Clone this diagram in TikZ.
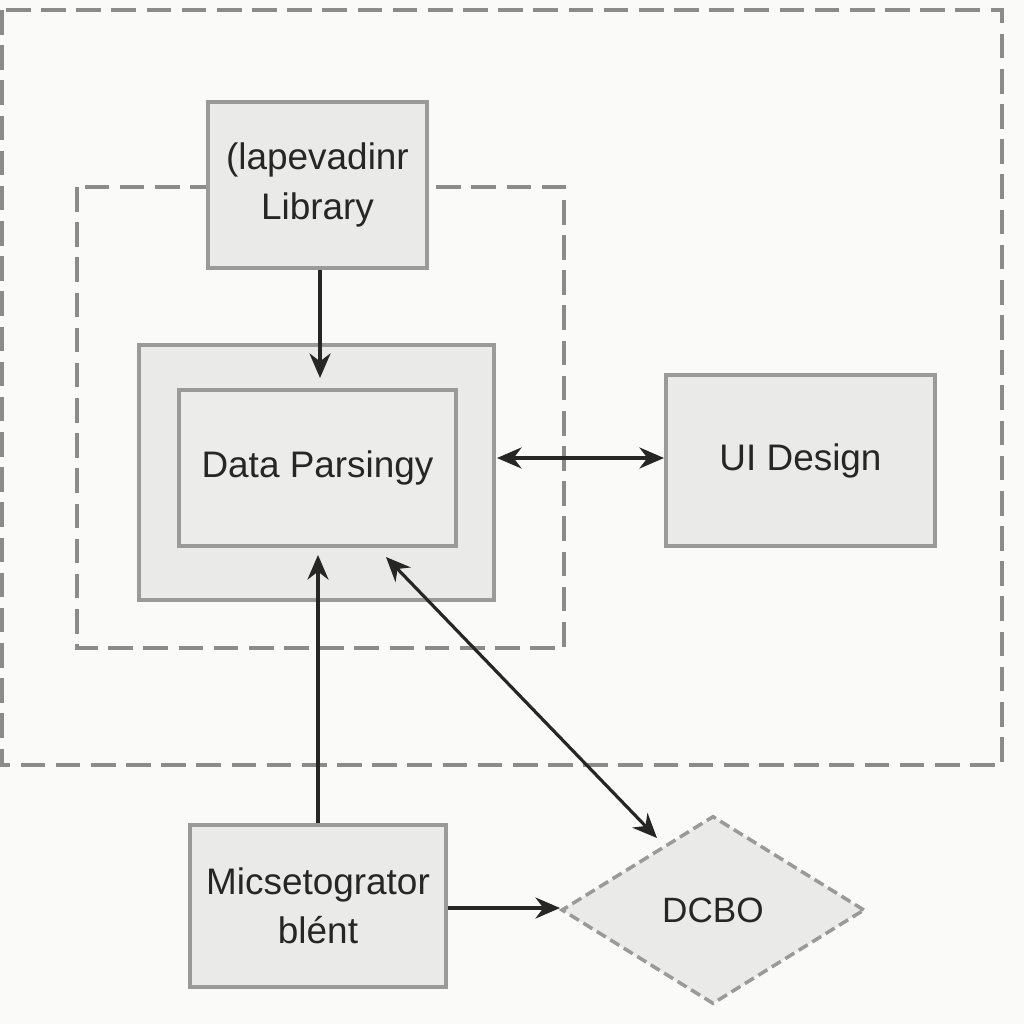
\documentclass[tikz,border=0pt]{standalone}
\usepackage{fontspec}
\setmainfont{Liberation Sans}
\usetikzlibrary{shapes.geometric,arrows.meta}
\definecolor{boxfill}{HTML}{EAEAE8}
\definecolor{innerfill}{HTML}{ECECEA}
\definecolor{edge}{HTML}{9A9A9A}
\definecolor{bg}{HTML}{FAFAF9}
\tikzset{
  px/.style={x=0.01cm,y=-0.01cm},
  box/.style={draw=edge, line width=1.1pt, fill=boxfill, inner sep=0pt, align=center, font=\fontsize{10.5}{14}\selectfont, text=black!85},
  group/.style={draw=edge!90!black, line width=1pt, dash pattern=on 7pt off 3pt},
  conn/.style={draw=black!85, line width=0.9pt, -{Stealth[length=7pt,width=6pt]}},
  dconn/.style={draw=black!85, line width=0.9pt, {Stealth[length=7pt,width=6pt]}-{Stealth[length=7pt,width=6pt]}}
}
\begin{document}
\begin{tikzpicture}[px]
\fill[bg] (0,0) rectangle (1024,1024);
\useasboundingbox (0,0) rectangle (1024,1024);
% group frames
\draw[group] (2,10) rectangle (1002,765);
\draw[group] (77,187) rectangle (564,648);
% nodes
\node[box, minimum width=2.19cm, minimum height=1.66cm] (lib) at (317.5,185) {(lapevadinr\\Library};
\node[box, minimum width=3.55cm, minimum height=2.55cm] (dpo) at (316.5,472.5) {};
\node[box, fill=innerfill, minimum width=2.77cm, minimum height=1.56cm] (dp) at (317.5,468) {Data Parsingy};
\node[box, minimum width=2.69cm, minimum height=1.71cm] (ui) at (800.5,460.5) {UI Design};
\node[box, minimum width=2.56cm, minimum height=1.62cm] (mic) at (318,906) {Micsetogrator\\bl\'ent};
\node[diamond, draw=edge, line width=1pt, dash pattern=on 3pt off 1.5pt, fill=boxfill, aspect=1.6, minimum width=3.03cm, minimum height=1.88cm, inner sep=0pt, font=\fontsize{10}{14}\selectfont, text=black!85] (dc) at (713,910) {DCBO};
% connectors
\coordinate (libin) at (320,378);
\draw[conn] (lib.south -| libin) -- (libin);
\coordinate (a1) at (497,458);
\draw[dconn] (a1) -- (ui.west |- a1);
\coordinate (micup) at (318,555);
\draw[conn] (mic.north -| micup) -- (micup);
\coordinate (dg1) at (386,557);
\coordinate (dg2) at (657,838);
\draw[dconn] (dg1) -- (dg2);
\coordinate (dcin) at (560,908);
\draw[conn] (mic.east |- dcin) -- (dcin);
\end{tikzpicture}
\end{document}
